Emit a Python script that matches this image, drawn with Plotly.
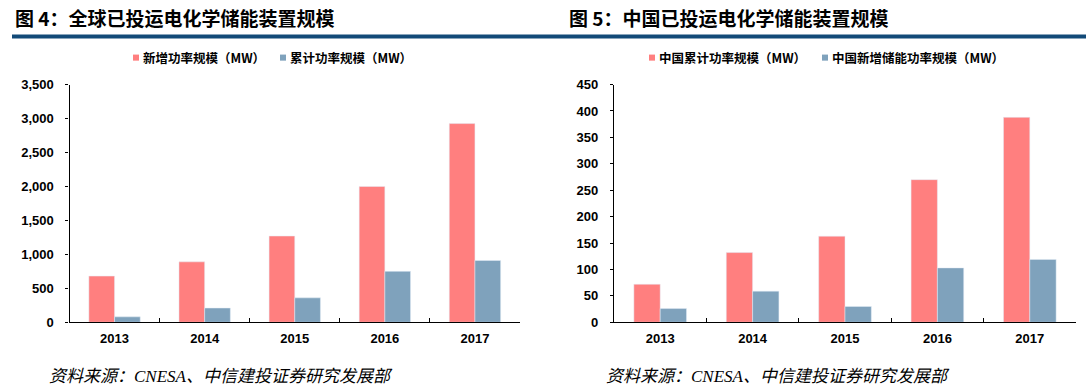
import plotly.graph_objects as go

years = ["2013", "2014", "2015", "2016", "2017"]

# Figure 4: global
g_name_new = "新增功率规模（MW）"
g_name_cum = "累计功率规模（MW）"
g_new = [680, 890, 1270, 2000, 2926]
g_cum = [80, 210, 360, 750, 910]
g_ticks = [0, 500, 1000, 1500, 2000, 2500, 3000, 3500]

# Figure 5: China
c_name_cum = "中国累计功率规模（MW）"
c_name_new = "中国新增储能功率规模（MW）"
c_cum = [72, 132, 163, 270, 388]
c_new = [26, 59, 30, 103, 119]
c_ticks = [0, 50, 100, 150, 200, 250, 300, 350, 400, 450]

title_left = "图 4：全球已投运电化学储能装置规模"
title_right = "图 5：中国已投运电化学储能装置规模"
source = "资料来源：CNESA、中信建投证券研究发展部"

RED = "#FF7F7F"
BLUE = "#7FA2BC"
W, H = 1086, 392

def px(x):
    return x / W

def py(y):
    yf = (y - 8.9) / 0.952
    return (H - yf) / H

fig = go.Figure()
fig.add_trace(go.Bar(x=years, y=g_new, name=g_name_new, marker_color=RED,
                     xaxis="x", yaxis="y", showlegend=False))
fig.add_trace(go.Bar(x=years, y=g_cum, name=g_name_cum, marker_color=BLUE,
                     xaxis="x", yaxis="y", showlegend=False))
fig.add_trace(go.Bar(x=years, y=c_cum, name=c_name_cum, marker_color=RED,
                     xaxis="x2", yaxis="y2", showlegend=False))
fig.add_trace(go.Bar(x=years, y=c_new, name=c_name_new, marker_color=BLUE,
                     xaxis="x2", yaxis="y2", showlegend=False))

tickfont = dict(family="Liberation Sans, Arial", size=13, color="#000000", weight="bold")
xcommon = dict(type="category", showline=True, linecolor="#000000", linewidth=1.3,
               ticks="inside", ticklen=4, tickcolor="#000000", tickson="boundaries",
               showgrid=False, tickfont=tickfont, zeroline=False, fixedrange=True,
               ticklabelstandoff=4)
ycommon = dict(showline=True, linecolor="#000000", linewidth=1.3, ticks="outside",
               ticklen=3, tickcolor="#000000", showgrid=False, zeroline=False,
               tickfont=tickfont, tickformat=",d", fixedrange=True,
               ticklabelstandoff=9)

ydom = [py(321), py(85.7)]
fig.update_layout(
    width=W, height=H,
    margin=dict(l=0, r=0, t=0, b=0),
    paper_bgcolor="white", plot_bgcolor="white",
    barmode="group", bargap=0.43, bargroupgap=0,
    xaxis=dict(domain=[px(69.5), px(520)], anchor="y", **xcommon),
    yaxis=dict(domain=ydom, anchor="x", range=[0, 3500], tickvals=g_ticks, **ycommon),
    xaxis2=dict(domain=[px(614), px(1076)], anchor="y2", **xcommon),
    yaxis2=dict(domain=ydom, anchor="x2", range=[0, 450], tickvals=c_ticks, **ycommon),
    font=dict(family="Noto Sans CJK SC"),
)

shapes = []
annotations = []
# blue rule under titles
shapes.append(dict(type="rect", xref="paper", yref="paper", x0=px(12), x1=px(1086),
                   y0=py(40), y1=py(36), fillcolor="#124A78", line=dict(width=0)))

title_font = dict(family="Noto Sans CJK SC", size=19, color="#000000", weight="bold")
annotations.append(dict(text=title_left, x=px(13), y=py(19), xref="paper",
                        yref="paper", xanchor="left", yanchor="middle", showarrow=False,
                        font=title_font))
annotations.append(dict(text=title_right, x=px(567), y=py(19), xref="paper",
                        yref="paper", xanchor="left", yanchor="middle", showarrow=False,
                        font=title_font))

legend_font = dict(family="Noto Sans CJK SC", size=12.5, color="#000000", weight="bold")

def legend_item(xsq, name, color):
    shapes.append(dict(type="rect", xref="paper", yref="paper", x0=px(xsq), x1=px(xsq + 6),
                       y0=py(62), y1=py(56), fillcolor=color, line=dict(width=0)))
    annotations.append(dict(text=name, x=px(xsq + 8), y=py(59),
                            xref="paper", yref="paper", xanchor="left", yanchor="middle",
                            showarrow=False, font=legend_font))

legend_item(133, g_name_new, RED)
legend_item(280, g_name_cum, BLUE)
legend_item(649, c_name_cum, RED)
legend_item(822, c_name_new, BLUE)

src_font = dict(family="Liberation Serif, Noto Sans CJK SC", size=17, color="#000000",
                style="italic")
for xs in (47, 604):
    annotations.append(dict(text=source, x=px(xs), y=py(375), xref="paper",
                            yref="paper", xanchor="left", yanchor="middle", showarrow=False,
                            font=src_font))

fig.update_layout(shapes=shapes, annotations=annotations)

fig.write_html("out.html", config={"displayModeBar": False},
               post_script="document.body.style.margin='0';"
                           "document.body.style.overflow='hidden';")
